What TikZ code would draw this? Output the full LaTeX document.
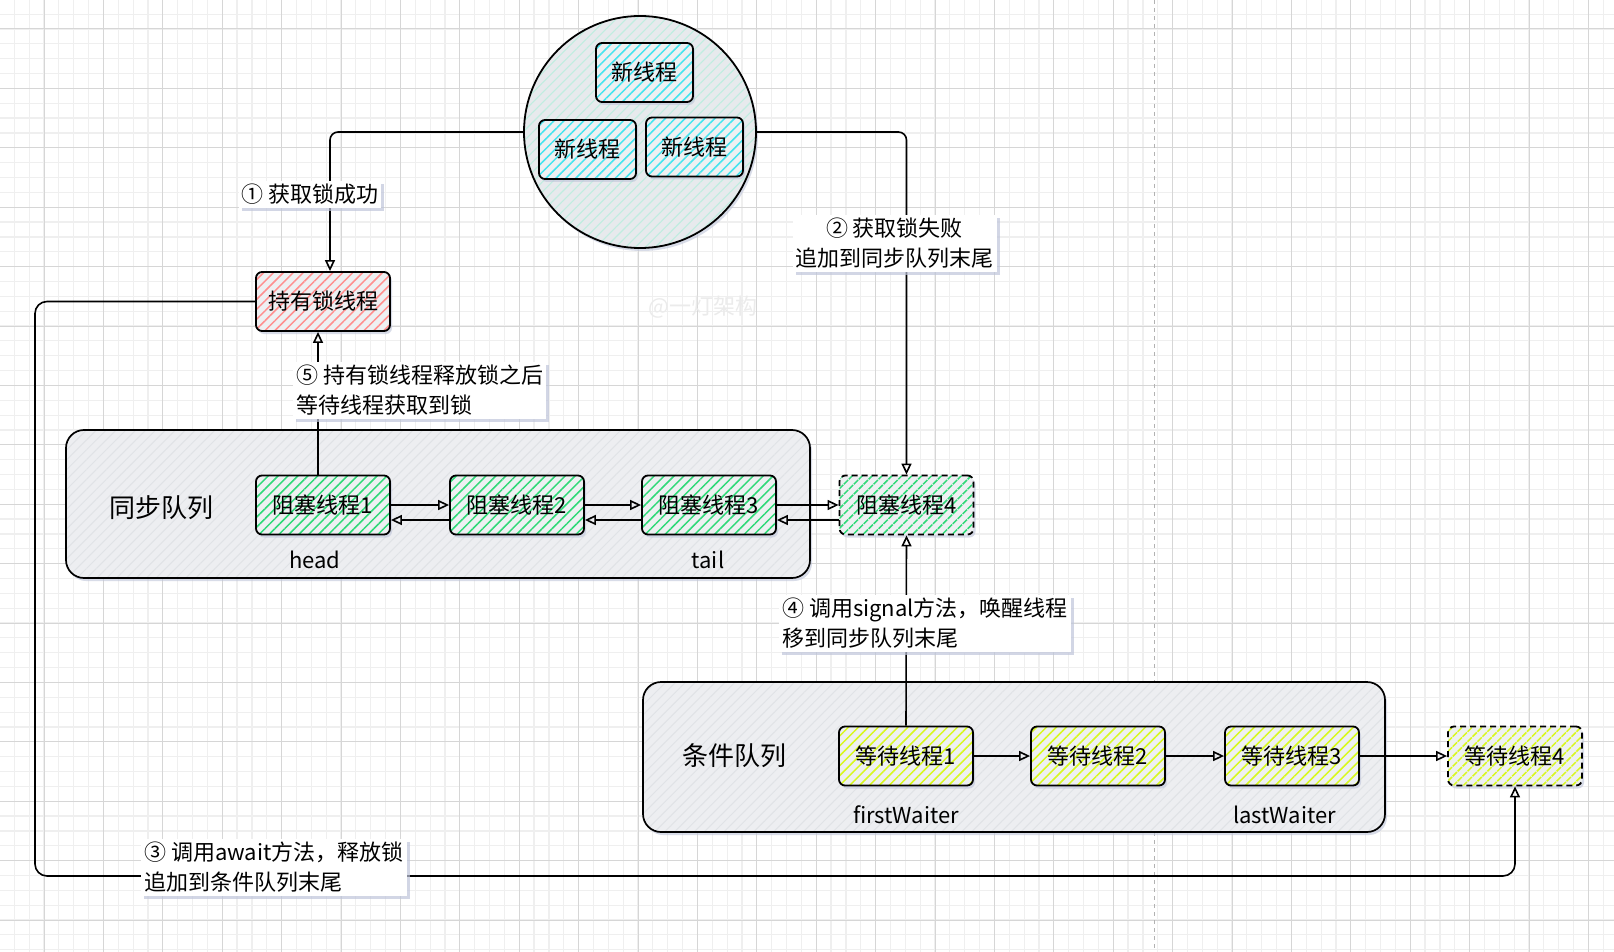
\documentclass[tikz,border=0pt]{standalone}
\usepackage{fontspec}
\setmainfont{Noto Sans CJK SC}
\usetikzlibrary{arrows.meta,patterns.meta,shadows,calc}
\definecolor{gmin}{HTML}{EFEFEF}
\definecolor{gmaj}{HTML}{D6D6D6}
\definecolor{shad}{HTML}{BFC5DA}
\definecolor{hgreen}{HTML}{2FD978}
\definecolor{hred}{HTML}{FF8F8F}
\definecolor{hcyan}{HTML}{45E4EE}
\definecolor{hyellow}{HTML}{D8F81E}
\definecolor{boxbg}{HTML}{EEF0F2}
\definecolor{contbg}{HTML}{EDEEF1}
\definecolor{conthatch}{HTML}{E0E2E6}
\definecolor{circbg}{HTML}{E7EAED}
\definecolor{circhatch}{HTML}{C0EDE0}
\tikzset{
  txt/.style={font=\fontsize{22}{30}\selectfont},
  shd/.style={drop shadow={shadow xshift=2pt, shadow yshift=-3pt, fill=shad, opacity=0.6}},
  thr/.style={draw, line width=1.8pt, rounded corners=6pt, minimum width=134pt, minimum height=59pt,
     inner sep=0pt, txt, shd, preaction={fill=boxbg},
     pattern={Lines[angle=45,distance=7pt,line width=1.5pt]}, pattern color=#1},
  cont/.style={draw, line width=1.7pt, rounded corners=18pt, shd, preaction={fill=contbg},
     pattern={Lines[angle=45,distance=7pt,line width=1pt]}, pattern color=conthatch},
  dsh/.style={dash pattern=on 6pt off 4pt},
  conn/.style={line width=1.6pt, -{Triangle[open, length=11pt, width=10pt, line width=1.6pt]}},
  lab/.style={fill=white, inner xsep=3pt, inner ysep=3pt, txt, align=left,
     drop shadow={shadow xshift=3pt, shadow yshift=-3pt, fill=shad, opacity=0.7}},
  qtitle/.style={font=\fontsize{26}{30}\selectfont},
}
\begin{document}
\begin{tikzpicture}[x=1pt,y=-1pt]
\useasboundingbox (0,0) rectangle (1614,952);
\fill[white] (0,0) rectangle (1614,952);
% grid
\foreach \i in {-3,...,106} \draw[gmin, line width=1.2pt] ({44+14.85*\i},0) -- ({44+14.85*\i},952);
\foreach \i in {-2,...,63} \draw[gmin, line width=1.2pt] (0,{29+14.85*\i}) -- (1614,{29+14.85*\i});
\foreach \i in {-1,...,27} \draw[gmaj, line width=1pt] ({44+59.4*\i},0) -- ({44+59.4*\i},952);
\foreach \i in {-1,...,16} \draw[gmaj, line width=1pt] (0,{29+59.4*\i}) -- (1614,{29+59.4*\i});
\draw[black!30, line width=1pt, dash pattern=on 4pt off 4pt] (1154,0) -- (1154,952);
\node[text=black!8, txt] (wm) at (703,307) {@一灯架构};

% containers
\node[cont, minimum width=744pt, minimum height=148pt] (syncq) at (438,504) {};
\node[cont, minimum width=742pt, minimum height=150pt] (condq) at (1014,757) {};
\node[qtitle] (synct) at (161.6,507.5) {同步队列};
\node[qtitle] (condt) at (734,755.5) {条件队列};

% circle of new threads
\node[circle, draw, line width=1.8pt, minimum size=232pt, shd, preaction={fill=circbg},
      pattern={Lines[angle=45,distance=7pt,line width=1.1pt]}, pattern color=circhatch] (circ) at (640,132) {};
\node[thr=hcyan, minimum width=97pt] (n1) at (644.5,72.5) {新线程};
\node[thr=hcyan, minimum width=97pt] (n2) at (587.5,149.5) {新线程};
\node[thr=hcyan, minimum width=97pt] (n3) at (694.5,147) {新线程};

% holder
\node[thr=hred] (hold) at (323,301.5) {持有锁线程};

% sync queue
\node[thr=hgreen] (b1) at (323,505) {阻塞线程1};
\node[thr=hgreen] (b2) at (517,505) {阻塞线程2};
\node[thr=hgreen] (b3) at (709,505) {阻塞线程3};
\node[thr=hgreen, dsh] (b4) at (906.5,505) {阻塞线程4};
\node[txt] (head) at (315,560) {head};
\node[txt] (tail) at (708,560) {tail};

% condition queue
\node[thr=hyellow] (w1) at (906,756) {等待线程1};
\node[thr=hyellow] (w2) at (1098,756) {等待线程2};
\node[thr=hyellow] (w3) at (1292,756) {等待线程3};
\node[thr=hyellow, dsh] (w4) at (1515,756) {等待线程4};
\node[txt] (fw) at (906,815) {firstWaiter};
\node[txt] (lw) at (1284.5,815) {lastWaiter};

% connectors
\draw[conn, rounded corners=8pt] (circ.west) -| ([xshift=7pt]hold.north);
\draw[conn, rounded corners=8pt] (circ.east) -| (b4.north);
\coordinate (lft) at (35,876);
\draw[conn, rounded corners=12pt] (hold.west) -| (lft) -| (w4.south);
\draw[conn] ([xshift=-5pt]b1.north) -- ([xshift=-5pt]hold.south);
\draw[conn] (w1.north) -- (b4.south);
\draw[conn] (b1.east) -- (b2.west);
\draw[conn] ([yshift=-15pt]b2.west) -- ([yshift=-15pt]b1.east);
\draw[conn] (b2.east) -- (b3.west);
\draw[conn] ([yshift=-15pt]b3.west) -- ([yshift=-15pt]b2.east);
\draw[conn] (b3.east) -- (b4.west);
\draw[conn] ([yshift=-15pt]b4.west) -- ([yshift=-15pt]b3.east);
\draw[conn] (w1.east) -- (w2.west);
\draw[conn] (w2.east) -- (w3.west);
\draw[conn] (w3.east) -- (w4.west);

% labels
\node[lab] (l1) at (310,194.5) {① 获取锁成功};
\node[lab, align=center] (l2) at (894.5,243.5) {② 获取锁失败\\追加到同步队列末尾};
\node[lab, anchor=north west] (l3) at (141,839) {③ 调用await方法，释放锁\\追加到条件队列末尾};
\node[lab, anchor=north west] (l4) at (779,595) {④ 调用signal方法，唤醒线程\\移到同步队列末尾};
\node[lab, anchor=north west] (l5) at (293,362) {⑤ 持有锁线程释放锁之后\\等待线程获取到锁};
\end{tikzpicture}
\end{document}
